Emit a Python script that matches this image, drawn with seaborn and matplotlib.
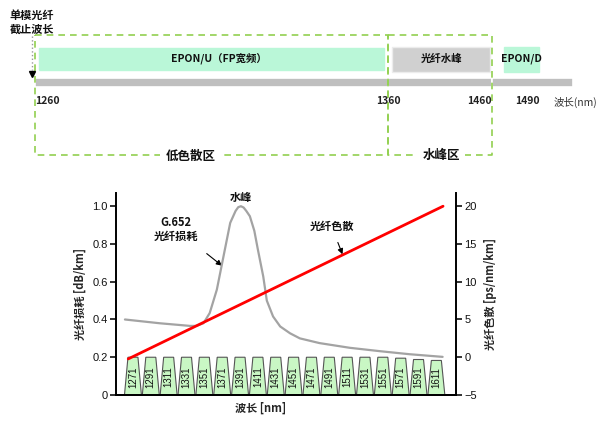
"""
Recreate the CWDM band plan / G.652 fiber loss & dispersion chart.
"""

import numpy as np
import pandas as pd
import matplotlib

matplotlib.use("Agg")
import matplotlib.pyplot as plt
import seaborn as sns

# --- top band plan (schematic, not to scale) ---
band_names = ["EPON/U（FP宽频）", "光纤水峰", "EPON/D"]
band_start = [1261, 1364, 1470]
band_end = [1359, 1458, 1500]
band_colors = ["#baf7d8", "#d0d0d0", "#baf7d8"]
bar_edges = [1260, 1360, 1460, 1530]
tick_nm = [1260, 1360, 1460, 1490]
tick_align = ["left", "center", "right", "center"]
zone_names = ["低色散区", "水峰区"]
zone_start = [1259.5, 1360]
zone_end = [1360, 1460]
zone_label_nm = [1304, 1411]
cutoff_nm = 1257

# breakpoints of the schematic axis (nm -> drawing position)
scale_nm = [1225, 1260, 1360, 1460, 1490, 1530, 1590]
scale_pos = [0, 35, 388, 492, 527, 573, 600]

# --- bottom chart ---
cwdm_channels = [1271, 1291, 1311, 1331, 1351, 1371, 1391, 1411, 1431,
                 1451, 1471, 1491, 1511, 1531, 1551, 1571, 1591, 1611]
cwdm_top = [0.2] * 15 + [0.195, 0.188, 0.183]

loss_nm = [1262, 1301, 1335, 1342, 1350, 1357, 1365, 1371, 1380, 1386,
           1389, 1392, 1395, 1398, 1402, 1407, 1411, 1417, 1421, 1428,
           1436, 1447, 1458, 1480, 1514, 1548, 1581, 1618]
loss_db = [0.40, 0.38, 0.366, 0.366, 0.38, 0.434, 0.558, 0.70, 0.912, 0.975,
           0.995, 1.0, 0.993, 0.975, 0.947, 0.87, 0.77, 0.628, 0.50, 0.416,
           0.363, 0.327, 0.30, 0.275, 0.25, 0.232, 0.216, 0.202]

disp_nm = [1265.7, 1618.5]
disp_ps = [-0.22, 20]

sns.set_theme(style="white")
plt.rcParams["font.family"] = ["Noto Sans CJK SC", "DejaVu Sans"]
num_font = ["Liberation Sans", "DejaVu Sans"]

fig = plt.figure(figsize=(6, 4.21), dpi=100)

# ---------------- top schematic ----------------
ax_top = fig.add_axes([0, 1 - 170 / 421, 1, 170 / 421])
ax_top.set_xscale(
    "function",
    functions=(
        lambda x: np.interp(x, scale_nm, scale_pos),
        lambda p: np.interp(p, scale_pos, scale_nm),
    ),
)
ax_top.set_xlim(scale_nm[0], scale_nm[-1])
ax_top.set_ylim(170, 0)
ax_top.axis("off")

# gray wavelength bar, split at the section edges
for lo, hi in zip(bar_edges[:-1], bar_edges[1:]):
    ax_top.barh(82.5, hi - lo, left=lo, height=9.5, color="#bfbfbf",
                edgecolor="white", linewidth=1.2)

# band boxes
band_rows = [(48, 70), (47, 72), (47, 72)]
for name, lo, hi, col, (y0, y1) in zip(band_names, band_start, band_end,
                                       band_colors, band_rows):
    edge = "#ececec" if col == "#d0d0d0" else col
    ax_top.barh((y0 + y1) / 2, hi - lo, left=lo, height=y1 - y0, color=col,
                edgecolor=edge, linewidth=1)
    mid = np.interp((np.interp(lo, scale_nm, scale_pos)
                     + np.interp(hi, scale_nm, scale_pos)) / 2,
                    scale_pos, scale_nm)
    if name.startswith("EPON/U"):
        mid += 2
    ax_top.text(mid, (y0 + y1) / 2 - 1, name, ha="center", va="center",
                fontsize=7.5, fontweight="bold", color="#111")

# dashed zone boxes
for name, lo, hi, lab in zip(zone_names, zone_start, zone_end, zone_label_nm):
    ax_top.plot([lo, hi, hi, lo, lo], [34.5, 34.5, 155, 155, 34.5],
                color="#92d050", lw=1.2, ls=(0, (4, 3)))
    ax_top.text(lab, 156, name, ha="center", va="center", fontsize=9,
                fontweight="bold", color="#111",
                bbox=dict(facecolor="white", edgecolor="none", pad=4))

# wavelength tick labels
for nm, ha in zip(tick_nm, tick_align):
    ax_top.text(nm, 101, str(nm), ha=ha, va="center", fontsize=7.5,
                fontweight="bold", color="#222")
ax_top.text(554 / 600, 1 - 102 / 170, "波长(nm)", transform=ax_top.transAxes,
            ha="left", va="center", fontsize=7.5, color="#333")

# single mode cutoff marker
ax_top.plot([cutoff_nm, cutoff_nm], [36, 70], color="#999", lw=1, ls=":")
ax_top.plot([cutoff_nm], [74], marker="v", color="black", ms=5)
ax_top.text(cutoff_nm, 22.5, "单模光纤\n截止波长", ha="center", va="center",
            fontsize=8, fontweight="bold", color="#111", linespacing=1.15)

# ---------------- bottom chart ----------------
ax = fig.add_axes([116 / 600, 1 - 395 / 421, 340 / 600, 202 / 421])
ax2 = ax.twinx()

loss_df = pd.DataFrame({"nm": loss_nm, "loss": loss_db})
disp_df = pd.DataFrame({"nm": disp_nm, "disp": disp_ps})

# CWDM channel trapezoids
for ch, top in zip(cwdm_channels, cwdm_top):
    ax.fill([ch - 9.5, ch - 5.6, ch + 5.6, ch + 9.5], [0, top, top, 0],
            facecolor="#c9f7c4", edgecolor="#555", lw=0.8, zorder=2)
    ax.text(ch, 0.095, str(ch), rotation=90, ha="center", va="center",
            fontsize=7, family=num_font, color="#111", zorder=3)

sns.lineplot(data=loss_df, x="nm", y="loss", ax=ax, color="#a3a3a3",
             lw=1.6, zorder=4)
sns.lineplot(data=disp_df, x="nm", y="disp", ax=ax2, color="#ff0000",
             lw=2, zorder=4)

ax.set_xlim(1252, 1633)
ax.set_ylim(0, 1.07)
ax2.set_ylim(-5, -5 + 25 * 1.07)
ax.set_yticks([0, 0.2, 0.4, 0.6, 0.8, 1.0])
ax.set_yticklabels(["0", "0.2", "0.4", "0.6", "0.8", "1.0"])
ax2.set_yticks([-5, 0, 5, 10, 15, 20])
ax.set_xticks([])

for a in (ax, ax2):
    a.tick_params(axis="y", direction="out", length=4, width=1.2,
                  labelsize=8, pad=2, colors="#111")
    for lab in a.get_yticklabels():
        lab.set_family(num_font)
    for side in ("left", "right", "bottom"):
        a.spines[side].set_linewidth(1.4)
        a.spines[side].set_color("black")
    a.spines["top"].set_visible(False)
ax.spines["right"].set_visible(False)
ax2.spines["left"].set_visible(False)
ax.yaxis.set_ticks_position("left")
ax2.yaxis.set_ticks_position("right")

ax.set_ylabel("光纤损耗 [dB/km]", fontsize=8, fontweight="bold", labelpad=4)
ax2.set_ylabel("光纤色散 [ps/nm/km]", fontsize=8, fontweight="bold",
               labelpad=5)
ax.set_xlabel("波长 [nm]", fontsize=8, fontweight="bold")
ax.xaxis.label.set_va("center")
ax.xaxis.set_label_coords(0.426, -0.063)

# annotations
ax.text(1392.5, 1.045, "水峰", ha="center", va="center", fontsize=8,
        fontweight="bold", color="#111")
ax.annotate("G.652\n光纤损耗", xy=(1370.7, 0.685), xytext=(1319, 0.879),
            ha="center", va="center", fontsize=8, fontweight="bold",
            linespacing=1.1, color="#111",
            arrowprops=dict(arrowstyle="-|>", color="black", lw=0.8,
                            mutation_scale=8, shrinkA=9, shrinkB=0))
ax.annotate("光纤色散", xy=(1505.8, 0.745), xytext=(1493.5, 0.894),
            ha="center", va="center", fontsize=8, fontweight="bold",
            color="#111",
            arrowprops=dict(arrowstyle="-|>", color="black", lw=0.8,
                            mutation_scale=8, shrinkA=5, shrinkB=0))

fig.savefig("out.png", dpi=100)
